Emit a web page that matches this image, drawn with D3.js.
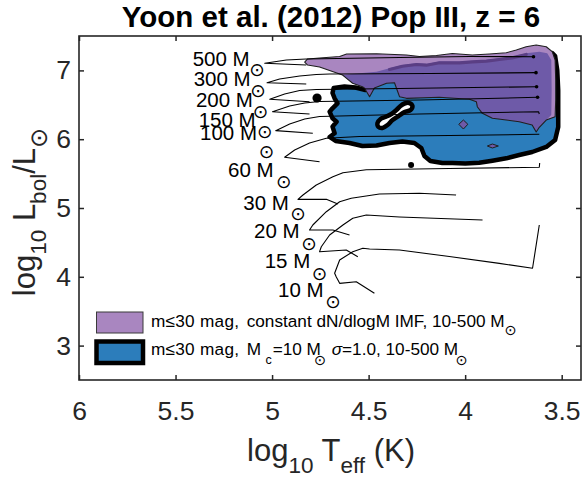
<!DOCTYPE html>
<html>
<head>
<meta charset="utf-8">
<title>Yoon et al. (2012) Pop III, z = 6</title>
<script src="https://cdn.jsdelivr.net/npm/d3@7"></script>
<style>
  html, body { margin: 0; padding: 0; background: #ffffff; }
  svg { display: block; font-family: "Liberation Sans", Arial, Helvetica, sans-serif; }
</style>
</head>
<body>
<svg id="hr" width="582" height="477"></svg>
<script>
// ---------- axis ticks ----------
const xTickValues = [6, 5.5, 5, 4.5, 4, 3.5];
const yTickValues = [3, 4, 5, 6, 7];

// ---------- evolutionary tracks: [log10 Teff, log10 Lbol/Lsun] ----------
const track500 = [[4.823,7.078],[5.038,7.103],[4.926,7.151],[4.823,7.166],[4.340,7.188],[3.978,7.202],[3.646,7.199]];
const track300 = [[4.823,6.802],[5.026,6.821],[4.961,6.875],[4.857,6.919],[4.771,6.940],[4.702,6.948],[4.185,6.955],[3.633,6.967]];
const track200 = [[4.806,6.545],[5.012,6.580],[4.935,6.657],[4.857,6.708],[4.771,6.722],[4.340,6.737],[3.630,6.763]];
const track150 = [[4.806,6.366],[4.998,6.400],[4.909,6.483],[4.831,6.526],[4.754,6.548],[4.237,6.570],[3.625,6.609]];
const track100 = [[4.789,6.086],[4.981,6.124],[4.909,6.221],[4.831,6.294],[4.754,6.330],[4.237,6.366],[3.620,6.400],[3.616,6.366]];
const track60  = [[4.754,5.673],[4.935,5.737],[4.883,5.843],[4.806,5.945],[4.719,6.013],[4.547,6.039],[4.082,6.054],[3.616,6.071]];
const track30  = [[4.659,5.058],[4.719,5.126],[4.866,5.126],[4.840,5.189],[4.771,5.334],[4.685,5.455],[4.633,5.513],[4.512,5.557],[4.082,5.574],[3.616,5.592],[3.614,5.654]];
const track20  = [[4.599,4.608],[4.685,4.680],[4.806,4.680],[4.789,4.753],[4.719,4.946],[4.650,5.091],[4.590,5.141],[4.444,5.203],[4.237,5.214],[4.047,5.189]];
const track15  = [[4.556,4.292],[4.616,4.390],[4.754,4.365],[4.745,4.437],[4.702,4.608],[4.633,4.753],[4.582,4.850],[4.512,4.898],[4.340,4.870],[3.910,4.826]];
const track10  = [[4.470,3.760],[4.564,3.929],[4.650,3.905],[4.668,4.001],[4.676,4.051],[4.650,4.244],[4.582,4.365],[4.530,4.414],[4.495,4.404],[4.340,4.390],[4.082,4.295],[3.823,4.195],[3.651,4.124],[3.616,4.753]];
const tracks = [track500, track300, track200, track150, track100, track60, track30, track20, track15, track10];

// initial masses, label anchors (right end of "M", baseline) and solar-symbol centres
const trackMasses = ["500", "300", "200", "150", "100", "60", "30", "20", "15", "10"];
const labelAnchor = [[5.116,7.064],[5.111,6.766],[5.099,6.472],[5.085,6.180],[5.078,5.990],[4.992,5.451],[4.913,4.971],[4.857,4.560],[4.802,4.124],[4.733,3.705]];
const sunAnchor   = [[5.078,7.016],[5.073,6.705],[5.060,6.410],[5.038,6.109],[5.029,5.818],[4.940,5.392],[4.866,4.923],[4.809,4.487],[4.754,4.051],[4.685,3.638]];

// end-of-track markers of the most massive models, and two stray points
const endMarkTracks = [track500, track300, track200, track150];
const bigMarks = [[4.767,6.599]];
const smallMarks = [[4.280,5.625]];

// ---------- m <= 30 mag region, constant dN/dlogM IMF ----------
const purpleTop = [[4.831,7.122],[4.816,7.166],[4.754,7.180],[4.650,7.202],[4.614,7.238],[4.459,7.243],[4.304,7.224],[4.237,7.202],[4.149,7.217],[4.066,7.246],[3.963,7.224],[3.875,7.238],[3.787,7.257],[3.735,7.297],[3.684,7.344],[3.632,7.369],[3.580,7.344],[3.549,7.272],[3.534,7.151],[3.531,6.860],[3.531,6.570],[3.534,6.327]];
const purpleBelow = [[3.580,6.279],[3.616,6.173],[3.632,6.105],[3.653,6.206],[3.720,6.254],[3.787,6.279],[3.859,6.304],[3.911,6.376],[3.937,6.472],[3.942,6.545],[3.978,6.580],[4.133,6.609],[4.304,6.594],[4.340,6.618],[4.366,6.821],[4.407,6.813],[4.470,6.744],[4.495,6.618],[4.521,6.740],[4.532,6.763],[4.583,6.813],[4.614,6.885],[4.635,6.933]];
const purpleTail = [[4.702,6.999],[4.754,7.049],[4.816,7.078]];
const purpleCoreTop = [[4.635,6.933],[4.547,6.958],[4.459,6.981],[4.392,7.031],[4.325,7.078],[4.252,7.103],[4.201,7.093],[4.133,7.129],[4.030,7.126],[3.963,7.141],[3.890,7.151],[3.823,7.176],[3.756,7.199],[3.684,7.249],[3.616,7.272],[3.575,7.249],[3.554,7.151],[3.552,6.715],[3.554,6.352]];
const purpleRidge = [[4.392,7.031],[4.325,7.078],[4.252,7.103],[4.201,7.093],[4.133,7.129],[4.030,7.126],[3.963,7.141],[3.890,7.151],[3.823,7.176],[3.756,7.199],[3.684,7.249]];
const purpleDiamond = [[4.009,6.279],[3.986,6.217],[4.009,6.148],[4.033,6.217]];
const purpleSliver = [[3.885,5.901],[3.859,5.930],[3.828,5.901],[3.859,5.872]];

// ---------- m <= 30 mag region, Mc = 10 Msun, sigma = 1.0 ----------
const blueRegion = [[4.681,6.744],[4.625,6.766],[4.568,6.751],[4.516,6.715],[4.506,6.933],[4.237,7.035],[3.823,7.093],[3.616,7.180],[3.549,7.253],[3.534,7.209],[3.523,7.006],[3.518,6.715],[3.518,6.177],[3.534,5.988],[3.580,5.887],[3.653,5.814],[3.720,5.770],[3.787,5.722],[3.859,5.688],[3.927,5.658],[3.999,5.647],[4.066,5.654],[4.118,5.654],[4.180,5.683],[4.211,5.756],[4.227,5.872],[4.263,5.945],[4.325,5.967],[4.392,5.945],[4.459,5.908],[4.532,5.901],[4.599,5.945],[4.671,5.974],[4.702,6.032],[4.676,6.086],[4.687,6.182],[4.666,6.254],[4.687,6.304],[4.702,6.400],[4.687,6.449],[4.661,6.522],[4.676,6.594],[4.687,6.672]];
const blueHole = [[4.454,6.235],[4.438,6.294],[4.413,6.323],[4.382,6.366],[4.356,6.424],[4.335,6.483],[4.314,6.519],[4.289,6.526],[4.273,6.483],[4.283,6.424],[4.314,6.395],[4.345,6.337],[4.376,6.279],[4.402,6.206],[4.428,6.163],[4.449,6.177]];
const blueSpeck = [[4.357,6.836],[4.323,6.836]];

// ---------- legend texts ----------
const legendLead = "m\u226430 mag,";
const legendLine1 = "constant dN/dlogM IMF, 10-500 M";
const legendLine2 = ["M", "c", "=10 M", "\u03c3", "=1.0, 10-500 M"];

// ---------- drawing ----------
const COL = {
  lightPurple: "#a986c0",
  darkPurple: "#6e5aa8",
  ridge: "#5a3e84",
  blue: "#2c7dbb",
  ink: "#262626"
};
const SUN = "\u2299";

const svg = d3.select("#hr");
const x = d3.scaleLinear().domain([6, 3.4]).range([79, 581]);
const y = d3.scaleLinear().domain([2.5, 7.5]).range([380, 36]);
const line = d3.line().x(d => x(d[0])).y(d => y(d[1]));
const closed = d3.line().x(d => x(d[0])).y(d => y(d[1])).curve(d3.curveLinearClosed);
const smoothClosed = d3.line().x(d => x(d[0])).y(d => y(d[1])).curve(d3.curveCatmullRomClosed.alpha(0.5));

svg.append("defs").append("clipPath").attr("id", "plotClip")
  .append("rect").attr("x", 79).attr("y", 36).attr("width", 502).attr("height", 344);

const plot = svg.append("g").attr("clip-path", "url(#plotClip)");

// blue region with its heavy outline, and the white gap inside it
plot.append("path").attr("d", closed(blueRegion))
  .attr("fill", COL.blue).attr("stroke", "#000").attr("stroke-width", 4.5).attr("stroke-linejoin", "round");
plot.append("path").attr("d", smoothClosed(blueHole))
  .attr("fill", "#fff").attr("stroke", "#000").attr("stroke-width", 4.5).attr("stroke-linejoin", "round");
plot.append("path").attr("d", line(blueSpeck))
  .attr("fill", "none").attr("stroke", "#000").attr("stroke-width", 2.5).attr("stroke-linecap", "round");

// purple region: light outer level, darker inner level, thin outline
const purpleOuter = purpleTop.concat(purpleBelow, purpleTail);
plot.append("path").attr("d", closed(purpleOuter)).attr("fill", COL.lightPurple);
plot.append("path").attr("d", closed(purpleCoreTop.concat(purpleBelow))).attr("fill", COL.darkPurple);
plot.append("path").attr("d", line(purpleRidge)).attr("transform", "translate(0,1.2)")
  .attr("fill", "none").attr("stroke", COL.ridge).attr("stroke-width", 3.2).attr("stroke-linecap", "round").attr("stroke-linejoin", "round");
plot.append("path").attr("d", closed(purpleOuter))
  .attr("fill", "none").attr("stroke", "#1e1e1e").attr("stroke-width", 1.1).attr("stroke-linejoin", "round");
[purpleDiamond, purpleSliver].forEach(p => {
  plot.append("path").attr("d", closed(p))
    .attr("fill", COL.darkPurple).attr("stroke", "#1e1e1e").attr("stroke-width", 1);
});

// tracks
plot.selectAll("path.track").data(tracks).join("path")
  .attr("class", "track")
  .attr("d", line)
  .attr("fill", "none").attr("stroke", "#000").attr("stroke-width", 1.1)
  .attr("stroke-linejoin", "round");

// markers
plot.selectAll("circle.end").data(endMarkTracks.map(t => t[t.length - 1])).join("circle")
  .attr("class", "end").attr("cx", d => x(d[0])).attr("cy", d => y(d[1])).attr("r", 1.8).attr("fill", "#000");
plot.selectAll("circle.big").data(bigMarks).join("circle")
  .attr("class", "big").attr("cx", d => x(d[0])).attr("cy", d => y(d[1])).attr("r", 4.6).attr("fill", "#000");
plot.selectAll("circle.small").data(smallMarks).join("circle")
  .attr("class", "small").attr("cx", d => x(d[0])).attr("cy", d => y(d[1])).attr("r", 3).attr("fill", "#000");

// mass labels: "<mass> M" with a lowered solar symbol
const labels = svg.append("g").attr("font-size", 20.5).attr("fill", "#000");
trackMasses.forEach((m, i) => {
  const t = labels.append("text")
    .attr("x", x(labelAnchor[i][0])).attr("y", y(labelAnchor[i][1]))
    .attr("text-anchor", "end");
  t.append("tspan").text(m + " M");
  t.append("tspan")
    .attr("x", x(sunAnchor[i][0])).attr("y", y(sunAnchor[i][1]) + 6.6)
    .attr("text-anchor", "middle")
    .attr("font-family", "DejaVu Sans").attr("font-size", 18.5)
    .text(SUN);
});

// axes: ticks inside on all four sides
const fmt = d3.format("~g");
const axB = svg.append("g").attr("transform", "translate(0,380)")
  .call(d3.axisBottom(x).tickValues(xTickValues).tickFormat(fmt).tickSizeInner(-5).tickSizeOuter(0).tickPadding(21));
const axT = svg.append("g").attr("transform", "translate(0,36)")
  .call(d3.axisTop(x).tickValues(xTickValues).tickFormat("").tickSizeInner(-5).tickSizeOuter(0));
const axL = svg.append("g").attr("transform", "translate(79,0)")
  .call(d3.axisLeft(y).tickValues(yTickValues).tickFormat(fmt).tickSizeInner(-5).tickSizeOuter(0).tickPadding(8));
const axR = svg.append("g").attr("transform", "translate(581,0)")
  .call(d3.axisRight(y).tickValues(yTickValues).tickFormat("").tickSizeInner(-5).tickSizeOuter(0));
[axB, axT, axL, axR].forEach(g => {
  g.select(".domain").remove();
  g.selectAll(".tick line").attr("stroke", COL.ink).attr("stroke-width", 1.5);
  g.selectAll(".tick text").attr("fill", COL.ink).attr("font-size", 26.5)
    .attr("font-family", "Liberation Sans, Arial, sans-serif");
});
svg.append("rect").attr("x", 79).attr("y", 36).attr("width", 502).attr("height", 344)
  .attr("fill", "none").attr("stroke", COL.ink).attr("stroke-width", 1.6);

// legend
const leg = svg.append("g");
leg.append("rect").attr("x", 96.5).attr("y", 312).attr("width", 46.5).attr("height", 21)
  .attr("fill", COL.lightPurple).attr("stroke", "#3a3a3a").attr("stroke-width", 1);
leg.append("rect").attr("x", 96.5).attr("y", 341.5).attr("width", 46.5).attr("height", 21.5)
  .attr("fill", COL.blue).attr("stroke", "#000").attr("stroke-width", 4.5);
const legText = leg.append("g").attr("font-size", 17.2).attr("fill", "#000");
const l1 = legText.append("text").attr("x", 151).attr("y", 327);
l1.append("tspan").attr("textLength", 88).attr("lengthAdjust", "spacing").text(legendLead);
l1.append("tspan").attr("x", 246.7).text(legendLine1);
l1.append("tspan").attr("x", 510.7).attr("y", 334.6).attr("text-anchor", "middle")
  .attr("font-family", "DejaVu Sans").attr("font-size", 14.5).text(SUN);
const l2 = legText.append("text").attr("x", 151).attr("y", 354.5);
l2.append("tspan").attr("textLength", 88).attr("lengthAdjust", "spacing").text(legendLead);
l2.append("tspan").attr("x", 246.7).text(legendLine2[0]);
l2.append("tspan").attr("x", 265.5).attr("y", 363.5).attr("font-size", 12.5).text(legendLine2[1]);
l2.append("tspan").attr("x", 272.7).attr("y", 354.5).text(legendLine2[2]);
l2.append("tspan").attr("x", 320).attr("y", 365.3).attr("text-anchor", "middle")
  .attr("font-family", "DejaVu Sans").attr("font-size", 14.5).text(SUN);
l2.append("tspan").attr("x", 331.7).attr("y", 354.5).attr("font-style", "italic").text(legendLine2[3]);
l2.append("tspan").text(legendLine2[4]);
l2.append("tspan").attr("x", 461.7).attr("y", 365.3).attr("text-anchor", "middle")
  .attr("font-family", "DejaVu Sans").attr("font-size", 14.5).text(SUN);

// title and axis titles
svg.append("text").attr("x", 331).attr("y", 27).attr("text-anchor", "middle")
  .attr("font-size", 29.5).attr("font-weight", "bold").attr("fill", "#000")
  .text("Yoon et al. (2012) Pop III, z = 6");

const xl = svg.append("text").attr("x", 331).attr("y", 461).attr("text-anchor", "middle")
  .attr("font-size", 31).attr("fill", COL.ink);
xl.append("tspan").text("log");
xl.append("tspan").attr("font-size", 22.5).attr("dy", 12).text("10");
xl.append("tspan").attr("dy", -12).text(" T");
xl.append("tspan").attr("font-size", 22.5).attr("dy", 12).text("eff");
xl.append("tspan").attr("dy", -12).text(" (K)");

const yl = svg.append("text").attr("transform", "translate(35,212) rotate(-90)")
  .attr("text-anchor", "middle").attr("font-size", 31).attr("fill", COL.ink);
yl.append("tspan").text("log");
yl.append("tspan").attr("font-size", 22.5).attr("dy", 11).text("10");
yl.append("tspan").attr("dy", -11).text(" L");
yl.append("tspan").attr("font-size", 22.5).attr("dy", 11).text("bol");
yl.append("tspan").attr("dy", -11).text("/L");
yl.append("tspan").attr("font-size", 24).attr("font-family", "DejaVu Sans").attr("dy", 12).text(SUN);
</script>
</body>
</html>
